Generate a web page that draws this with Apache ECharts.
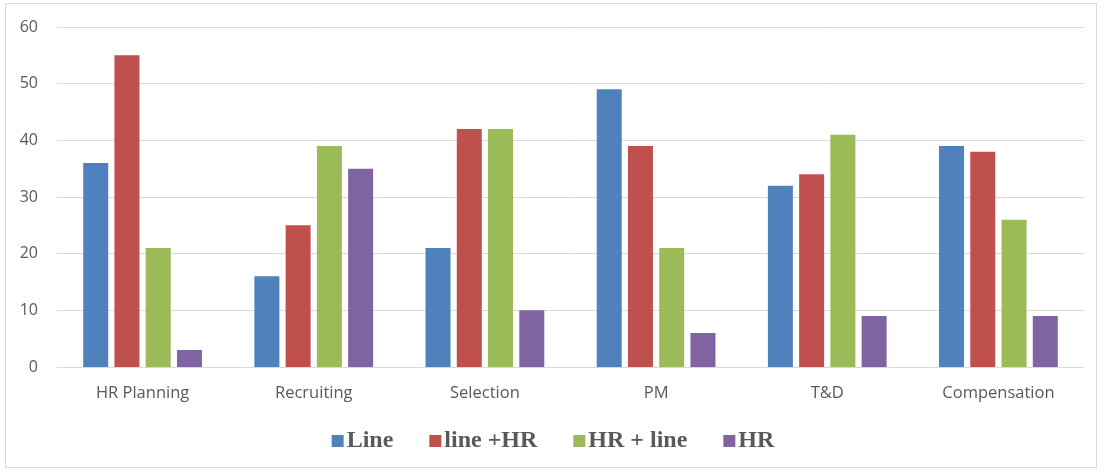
<!DOCTYPE html>
<html>
<head>
<meta charset="utf-8">
<script src="https://cdn.jsdelivr.net/npm/echarts@6/dist/echarts.min.js"></script>
<style>
  html, body { margin: 0; padding: 0; background: #fff; }
  #frame { position: absolute; left: 5px; top: 3px; width: 1092px; height: 465px; border: 1px solid #d9d9d9; box-sizing: border-box; }
  #chart { position: absolute; left: 0; top: 0; width: 1106px; height: 472px; }
</style>
</head>
<body>
<div id="frame"></div>
<div id="chart"></div>
<script>
// HR activities and who carries them out
const categories = ['HR Planning', 'Recruiting', 'Selection', 'PM', 'T&D', 'Compensation'];
const seriesNames = ['Line', 'line +HR', 'HR + line', 'HR'];
const lineOnly   = [36, 16, 21, 49, 32, 39];
const lineAndHR  = [55, 25, 42, 39, 34, 38];
const hrAndLine  = [21, 39, 42, 21, 41, 26];
const hrOnly     = [3, 35, 10, 6, 9, 9];
const yTicks     = { min: 0, max: 60, interval: 10 };

const colors = ['#4F81BD', '#C0504D', '#9BBB59', '#8064A2'];
const values = [lineOnly, lineAndHR, hrAndLine, hrOnly];

const chart = echarts.init(document.getElementById('chart'), null, { renderer: 'canvas' });
chart.setOption({
  animation: false,
  color: colors,
  grid: { left: 57, right: 22, top: 27, bottom: 105, containLabel: false },
  legend: {
    top: 424,
    left: 'center',
    itemWidth: 12,
    itemHeight: 12,
    itemGap: 36,
    icon: 'rect',
    textStyle: { fontFamily: 'Liberation Serif', fontWeight: 'bold', fontSize: 24, color: '#595959', padding: [0, 0, 0, -2] },
    data: seriesNames
  },
  xAxis: {
    type: 'category',
    data: categories,
    axisLine: { lineStyle: { color: '#d9d9d9' } },
    axisTick: { show: false },
    axisLabel: { color: '#595959', fontFamily: 'Open Sans', fontSize: 16.5, margin: 18 }
  },
  yAxis: {
    type: 'value',
    min: yTicks.min,
    max: yTicks.max,
    interval: yTicks.interval,
    axisLine: { show: false },
    axisTick: { show: false },
    splitLine: { lineStyle: { color: '#d9d9d9' } },
    axisLabel: { color: '#595959', fontFamily: 'Open Sans', fontSize: 16, margin: 19 }
  },
  series: seriesNames.map((name, i) => ({
    name,
    type: 'bar',
    data: values[i],
    barWidth: 25,
    barGap: '25%',
    itemStyle: { color: colors[i] }
  }))
});
</script>
</body>
</html>
